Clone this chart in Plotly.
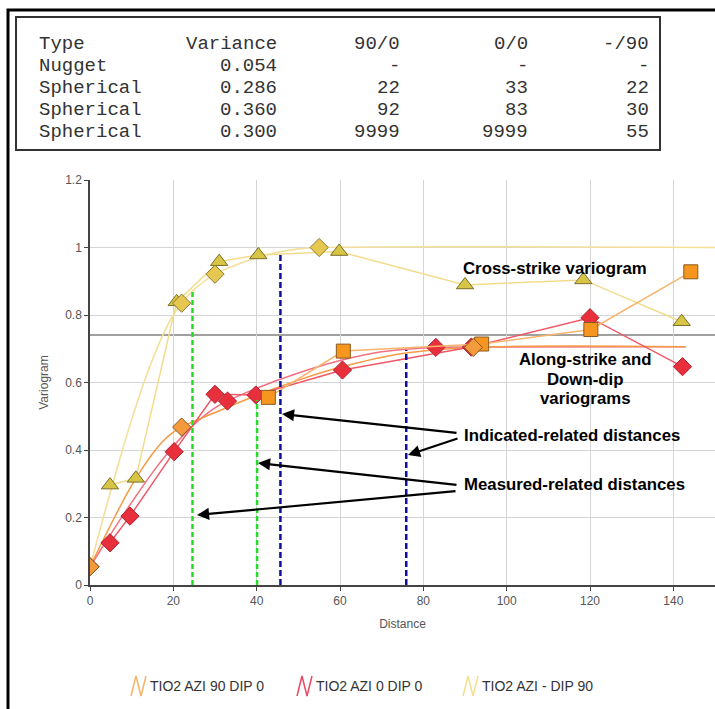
import plotly.graph_objects as go

# ---------------- data ----------------
# experimental variograms (read from picture)
az90_x = [42.8, 60.8, 94.0, 120.2, 144.2]
az90_y = [0.556, 0.693, 0.714, 0.757, 0.928]
az0_x = [4.8, 9.6, 20.2, 30.0, 39.8, 60.6, 91.5, 120.0, 142.2]
az0_y = [0.125, 0.204, 0.395, 0.565, 0.563, 0.637, 0.705, 0.792, 0.647]
dip90_x = [4.8, 11.0, 20.8, 31.0, 40.4, 59.8, 90.0, 118.4, 142.0]
dip90_y = [0.296, 0.316, 0.839, 0.958, 0.978, 0.988, 0.889, 0.904, 0.780]

# model curves
m90_x = [0, 2.5, 5, 7.5, 10, 12.5, 15, 17.5, 20, 22, 30, 40, 50, 60, 75, 92, 143]
m90_y = [0.054, 0.117, 0.179, 0.239, 0.295, 0.345, 0.389, 0.426, 0.453, 0.468, 0.511, 0.562, 0.607, 0.645, 0.686, 0.704, 0.706]
m0_x = [0, 2.5, 5, 7.5, 10, 15, 20, 25, 30, 33, 40, 50, 60, 70, 83, 100, 143]
m0_y = [0.054, 0.103, 0.151, 0.199, 0.245, 0.333, 0.411, 0.476, 0.525, 0.545, 0.583, 0.628, 0.665, 0.691, 0.704, 0.705, 0.706]
mdip_x = [0, 2.5, 5, 7.5, 10, 12.5, 15, 17.5, 20, 22, 25, 30, 35, 40, 45, 50, 55, 150]
mdip_y = [0.054, 0.168, 0.280, 0.388, 0.490, 0.584, 0.668, 0.741, 0.800, 0.835, 0.876, 0.921, 0.948, 0.970, 0.986, 0.996, 1.0, 1.0]

# model structure markers (nugget and ranges)
k90_x = [0, 22, 92]
k90_y = [0.054, 0.468, 0.704]
k0_x = [0, 33, 83]
k0_y = [0.054, 0.545, 0.704]
kdip_x = [0, 22, 30, 55]
kdip_y = [0.054, 0.835, 0.921, 1.0]

sample_variance = 0.741

measured_x = [24.6, 40.1]
measured_top = [0.874, 0.548]
indicated_x = [45.7, 75.9]
indicated_top = [0.985, 0.696]

series_names = ["TIO2 AZI 90 DIP 0", "TIO2 AZI 0 DIP 0", "TIO2 AZI - DIP 90"]

table_header = ["Type", "Variance", "90/0", "0/0", "-/90"]
table_rows = [
    ["Nugget", "0.054", "-", "-", "-"],
    ["Spherical", "0.286", "22", "33", "22"],
    ["Spherical", "0.360", "92", "83", "30"],
    ["Spherical", "0.300", "9999", "9999", "55"],
]

x_ticks = [0, 20, 40, 60, 80, 100, 120, 140]
y_ticks = [0, 0.2, 0.4, 0.6, 0.8, 1.0, 1.2]
y_ticktext = ["0", "0.2", "0.4", "0.6", "0.8", "1", "1.2"]

# ---------------- styles ----------------
W, H = 715, 709
L, R, T, B = 90, 715, 180, 585


def px(x):
    return (x - L) / (R - L)


def py(y):
    return (B - y) / (B - T)


ORANGE_LINE = "#F7B46C"
ORANGE_MODEL = "#F59A45"
ORANGE_MK = "#F7961E"
RED_LINE = "#F05868"
RED_MODEL = "#F27080"
RED_MK = "#E8303C"
YEL_LINE = "#F2DC8C"
YEL_MODEL = "#F4E09A"
YEL_MK = "#D8C445"
YEL_MK2 = "#E6C752"

fig = go.Figure()

# model curves
fig.add_trace(go.Scatter(x=mdip_x, y=mdip_y, mode="lines", line=dict(color=YEL_MODEL, width=1.6, shape="spline"), hoverinfo="skip"))
fig.add_trace(go.Scatter(x=m0_x, y=m0_y, mode="lines", line=dict(color=RED_MODEL, width=1.5, shape="spline"), hoverinfo="skip"))
fig.add_trace(go.Scatter(x=m90_x, y=m90_y, mode="lines", line=dict(color=ORANGE_MODEL, width=1.5, shape="spline"), hoverinfo="skip"))

# experimental
fig.add_trace(go.Scatter(x=dip90_x, y=dip90_y, mode="lines+markers",
                         line=dict(color=YEL_LINE, width=1.5),
                         marker=dict(symbol="triangle-up", size=15, color=YEL_MK, line=dict(color="#7A6F28", width=1))))
fig.add_trace(go.Scatter(x=kdip_x[1:], y=kdip_y[1:], mode="markers",
                         marker=dict(symbol="diamond", size=14, color=YEL_MK2, line=dict(color="#8C7A30", width=1))))
fig.add_trace(go.Scatter(x=az0_x, y=az0_y, mode="lines+markers",
                         line=dict(color=RED_LINE, width=1.5),
                         marker=dict(symbol="diamond", size=14, color=RED_MK, line=dict(color="#B02030", width=1))))
fig.add_trace(go.Scatter(x=k0_x, y=k0_y, mode="markers",
                         marker=dict(symbol="diamond", size=14, color=RED_MK, line=dict(color="#B02030", width=1))))
fig.add_trace(go.Scatter(x=az90_x, y=az90_y, mode="lines+markers",
                         line=dict(color=ORANGE_LINE, width=1.5),
                         marker=dict(symbol="square", size=14, color=ORANGE_MK, line=dict(color="#8A5A22", width=1))))
fig.add_trace(go.Scatter(x=k90_x, y=k90_y, mode="markers",
                         marker=dict(symbol="diamond", size=14, color="#F39A3C", line=dict(color="#8A5A22", width=1))))

# dashed distance lines
for gx, gt in zip(measured_x, measured_top):
    fig.add_trace(go.Scatter(x=[gx, gx], y=[0, gt], mode="lines",
                             line=dict(color="#22DD22", width=2.5, dash="5px,3px"), hoverinfo="skip"))
for bx, bt in zip(indicated_x, indicated_top):
    fig.add_trace(go.Scatter(x=[bx, bx], y=[0, bt], mode="lines",
                             line=dict(color="#1010A0", width=2.5, dash="6px,3px"), hoverinfo="skip"))

shapes = []
# sample variance line
shapes.append(dict(type="line", xref="x", yref="y", x0=0, x1=150, y0=sample_variance, y1=sample_variance,
                   line=dict(color="#808080", width=1.5), layer="below"))
# outer frame
shapes.append(dict(type="rect", xref="paper", yref="paper", x0=px(8), x1=px(730), y0=py(10), y1=py(730),
                   line=dict(color="black", width=3)))
# table box
shapes.append(dict(type="rect", xref="paper", yref="paper", x0=px(16), x1=px(660), y0=py(17), y1=py(150),
                   line=dict(color="#333333", width=2), fillcolor="white"))

annotations = []
mono = dict(family="Liberation Mono, Courier New, monospace", size=19, color="#333333")
col_left0 = 37
col_right = [None, 279, 402, 530, 651]
row_y = [44, 66, 88, 110, 132]
all_rows = [table_header] + table_rows
for ri, row in enumerate(all_rows):
    for ci, txt in enumerate(row):
        if ci == 0:
            annotations.append(dict(xref="paper", yref="paper", x=px(col_left0), y=py(row_y[ri]), text=txt,
                                    showarrow=False, xanchor="left", yanchor="middle", font=mono))
        else:
            annotations.append(dict(xref="paper", yref="paper", x=px(col_right[ci]), y=py(row_y[ri]), text=txt,
                                    showarrow=False, xanchor="right", yanchor="middle", font=mono))

bold = dict(family="Liberation Sans, Arial, sans-serif", size=16.8, color="black")
annotations.append(dict(x=px(555), y=py(268), xref="paper", yref="paper", text="<b>Cross-strike variogram</b>",
                        showarrow=False, font=bold, xanchor="center", yanchor="middle"))
for txt, ly in zip(["Along-strike and", "Down-dip", "variograms"], [359, 379, 398]):
    annotations.append(dict(x=px(585), y=py(ly), xref="paper", yref="paper", text=f"<b>{txt}</b>",
                            showarrow=False, font=bold, xanchor="center", yanchor="middle"))
annotations.append(dict(x=px(462), y=py(435), xref="paper", yref="paper", text="<b>Indicated-related distances</b>",
                        showarrow=False, font=bold, xanchor="left", yanchor="middle"))
annotations.append(dict(x=px(462), y=py(484), xref="paper", yref="paper", text="<b>Measured-related distances</b>",
                        showarrow=False, font=bold, xanchor="left", yanchor="middle"))

# arrows: (head_px, head_py, tail_px, tail_py)
arrows = [(282, 414, 458, 433), (408, 455, 459, 438), (258, 463, 458, 485), (197, 515, 457, 491)]
for hx, hy, tx, ty in arrows:
    annotations.append(dict(xref="paper", yref="paper", x=px(hx), y=py(hy), ax=tx - hx, ay=ty - hy,
                            showarrow=True, arrowhead=2, arrowsize=1.1, arrowwidth=2.2, arrowcolor="black", text=""))

# custom legend
legend_colors = ["#F8B466", "#E84A62", "#F6DE8E"]
legend_icon_x = [131, 297, 463]
leg_y = 686
for name, col, ix in zip(series_names, legend_colors, legend_icon_x):
    pts = [(ix, leg_y + 10), (ix + 5, leg_y - 10), (ix + 10, leg_y + 10), (ix + 15, leg_y - 10)]
    path = "M " + " L ".join(f"{px(a)},{py(b)}" for a, b in pts)
    shapes.append(dict(type="path", xref="paper", yref="paper", path=path, line=dict(color=col, width=1.5)))
    annotations.append(dict(xref="paper", yref="paper", x=px(ix + 17), y=py(leg_y), text=name, showarrow=False,
                            xanchor="left", yanchor="middle",
                            font=dict(family="Liberation Sans, Arial, sans-serif", size=14, color="#333333")))

tickfont = dict(family="Liberation Sans, Arial, sans-serif", size=12, color="#555555")
fig.update_layout(
    width=W, height=H,
    margin=dict(l=L, r=W - R, t=T, b=H - B, pad=0),
    paper_bgcolor="white", plot_bgcolor="white",
    showlegend=False,
    shapes=shapes, annotations=annotations,
    xaxis=dict(range=[0, 150], tickvals=x_ticks, showgrid=True, gridcolor="#D4D4D4", gridwidth=1,
               showline=True, linecolor="#444444", linewidth=1.5, ticks="outside", ticklen=4, tickcolor="#444444",
               zeroline=False, tickfont=tickfont,
               title=dict(text="Distance", font=tickfont, standoff=12)),
    yaxis=dict(range=[0, 1.2], tickvals=y_ticks, ticktext=y_ticktext, showgrid=True, gridcolor="#D4D4D4", gridwidth=1,
               showline=True, linecolor="#444444", linewidth=1.5, ticks="outside", ticklen=4, tickcolor="#444444",
               zeroline=False, tickfont=tickfont,
               title=dict(text="Variogram", font=tickfont, standoff=14)),
)

fig.write_html("out.html", config={"displayModeBar": False},
               post_script="document.body.style.margin='0px';document.body.style.overflow='hidden';")
